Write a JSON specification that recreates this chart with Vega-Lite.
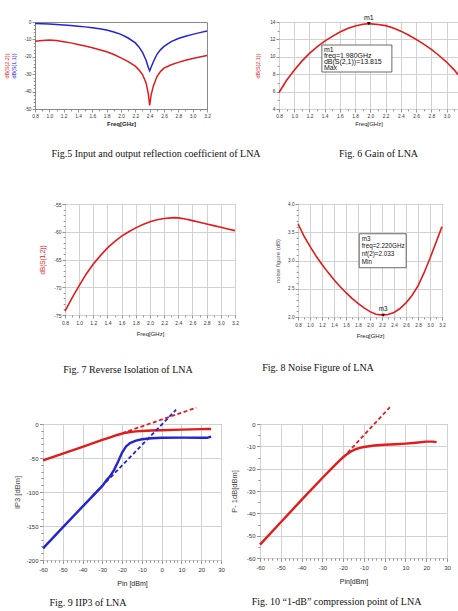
{
  "$schema": "https://vega.github.io/schema/vega-lite/v6.json",
  "padding": 0,
  "background": "white",
  "spacing": 0,
  "config": {
    "view": {"stroke": null},
    "font": "Liberation Sans",
    "axis": {
      "domain": false,
      "tickColor": "#7a7a7a",
      "tickWidth": 0.8,
      "labelFont": "Liberation Sans",
      "titleFont": "Liberation Sans",
      "labelColor": "#333333",
      "titleColor": "#222222",
      "titleFontWeight": "normal",
      "gridColor": "#d2d2d2",
      "gridWidth": 1,
      "labelFlush": false,
      "labelBound": false
    },
    "title": {"font": "Liberation Serif", "fontWeight": "normal", "color": "#111111", "orient": "bottom", "anchor": "middle", "frame": "group", "baseline": "top"}
  },
  "vconcat": [
    {"width": 1, "height": 13, "data": {"values": []}, "mark": "point"},
    {
      "spacing": 0,
      "bounds": "flush",
      "hconcat": [
        {"width": 35, "height": 87, "data": {"values": []}, "mark": "point"},
        {
          "width": 172,
          "height": 87,
          "view": {"stroke": "#8a8a8a", "strokeWidth": 1},
          "title": {"text": "Fig.5 Input and output reflection coefficient of LNA", "fontSize": 10, "frame": "group", "dx": 35, "offset": 22.5},
          "data": {"values": [
            {"freq": 0.8, "s11": -0.8, "s22": -11.0},
            {"freq": 0.9, "s11": -1.0, "s22": -10.6},
            {"freq": 1.0, "s11": -1.2, "s22": -10.4},
            {"freq": 1.1, "s11": -1.4, "s22": -10.7},
            {"freq": 1.2, "s11": -1.7, "s22": -11.3},
            {"freq": 1.3, "s11": -2.0, "s22": -12.0},
            {"freq": 1.4, "s11": -2.4, "s22": -12.9},
            {"freq": 1.5, "s11": -2.8, "s22": -13.8},
            {"freq": 1.6, "s11": -3.3, "s22": -14.8},
            {"freq": 1.7, "s11": -3.9, "s22": -15.9},
            {"freq": 1.8, "s11": -4.6, "s22": -17.1},
            {"freq": 1.9, "s11": -5.7, "s22": -18.7},
            {"freq": 2.0, "s11": -7.1, "s22": -20.6},
            {"freq": 2.1, "s11": -9.2, "s22": -22.8},
            {"freq": 2.2, "s11": -12.0, "s22": -25.4},
            {"freq": 2.25, "s11": -14.3, "s22": -27.5},
            {"freq": 2.3, "s11": -17.5, "s22": -30.2},
            {"freq": 2.35, "s11": -22.0, "s22": -35.0},
            {"freq": 2.38, "s11": -26.0, "s22": -41.0},
            {"freq": 2.4, "s11": -28.0, "s22": -48.0},
            {"freq": 2.42, "s11": -26.0, "s22": -42.0},
            {"freq": 2.45, "s11": -23.0, "s22": -37.0},
            {"freq": 2.5, "s11": -18.7, "s22": -31.5},
            {"freq": 2.55, "s11": -16.0, "s22": -28.5},
            {"freq": 2.6, "s11": -14.0, "s22": -26.5},
            {"freq": 2.7, "s11": -11.3, "s22": -24.6},
            {"freq": 2.8, "s11": -9.5, "s22": -23.2},
            {"freq": 2.9, "s11": -8.2, "s22": -22.0},
            {"freq": 3.0, "s11": -7.1, "s22": -21.0},
            {"freq": 3.1, "s11": -6.1, "s22": -20.1},
            {"freq": 3.2, "s11": -5.2, "s22": -19.2}
          ]},
          "encoding": {
            "x": {
              "field": "freq", "type": "quantitative",
              "scale": {"domain": [0.8, 3.2], "nice": false, "zero": false},
              "axis": {
                "values": [0.8, 0.9, 1.0, 1.1, 1.2, 1.3, 1.4, 1.5, 1.6, 1.7, 1.8, 1.9, 2.0, 2.1, 2.2, 2.3, 2.4, 2.5, 2.6, 2.7, 2.8, 2.9, 3.0, 3.1, 3.2],
                "labelExpr": "abs(datum.value*5 - round(datum.value*5)) < 0.01 ? format(datum.value, '.1f') : ''",
                "tickSize": {"condition": {"test": "abs(datum.value*5 - round(datum.value*5)) < 0.01", "value": 3}, "value": 1.8},
                "grid": false, "labelOverlap": false,
                "labelFontSize": 4.8, "labelPadding": 1,
                "title": "Freq[GHz]", "titleFontSize": 6, "titleFontWeight": "bold", "titlePadding": 3
              }
            }
          },
          "layer": [
            {
              "mark": {"type": "line", "color": "#2424d4", "strokeWidth": 1.5},
              "encoding": {
                "y": {
                  "field": "s11", "type": "quantitative",
                  "scale": {"domain": [-50, 0], "nice": false},
                  "axis": {
                    "orient": "left",
                    "values": [-50, -48, -46, -44, -42, -40, -38, -36, -34, -32, -30, -28, -26, -24, -22, -20, -18, -16, -14, -12, -10, -8, -6, -4, -2, 0],
                    "labelExpr": "datum.value % 10 === 0 ? '' + datum.value : ''",
                    "tickSize": {"condition": {"test": "datum.value % 10 === 0", "value": 3}, "value": 1.8},
                    "grid": false, "labelOverlap": false,
                    "labelFontSize": 4.8, "labelPadding": 1,
                    "title": "dB(S(1,1))", "titleColor": "#2424d4", "titleFontSize": 5.4, "titlePadding": 8
                  }
                }
              }
            },
            {
              "mark": {"type": "line", "color": "#e21b1b", "strokeWidth": 1.5},
              "encoding": {
                "y": {
                  "field": "s22", "type": "quantitative",
                  "axis": {
                    "orient": "left",
                    "labels": false, "ticks": false, "grid": false,
                    "title": "dB(S(2,2))", "titleColor": "#e21b1b", "titleFontSize": 5.4, "titlePadding": 26
                  }
                }
              }
            }
          ],
          "resolve": {"axis": {"y": "independent"}}
        },
        {"width": 72, "height": 87, "data": {"values": []}, "mark": "point"},
        {
          "width": 179,
          "height": 87,
          "view": {"stroke": "#8a8a8a", "strokeWidth": 1},
          "title": {"text": "Fig. 6 Gain of LNA", "fontSize": 10, "frame": "group", "dx": 10, "offset": 22.5},
          "encoding": {
            "x": {
              "field": "freq", "type": "quantitative",
              "scale": {"domain": [0.8, 3.15], "nice": false, "zero": false},
              "axis": {
                "values": [0.8, 0.9, 1.0, 1.1, 1.2, 1.3, 1.4, 1.5, 1.6, 1.7, 1.8, 1.9, 2.0, 2.1, 2.2, 2.3, 2.4, 2.5, 2.6, 2.7, 2.8, 2.9, 3.0, 3.1],
                "labelExpr": "abs(datum.value*5 - round(datum.value*5)) < 0.01 ? format(datum.value, '.1f') : ''",
                "tickSize": {"condition": {"test": "abs(datum.value*5 - round(datum.value*5)) < 0.01", "value": 3}, "value": 1.8},
                "gridOpacity": {"condition": {"test": "abs(datum.value*5 - round(datum.value*5)) < 0.01", "value": 1}, "value": 0},
                "labelOverlap": false,
                "labelFontSize": 4.8, "labelPadding": 1,
                "title": "Freq[GHz]", "titleFontSize": 6, "titlePadding": 3
              }
            },
            "y": {
              "field": "gain", "type": "quantitative",
              "scale": {"domain": [4, 14], "nice": false, "zero": false},
              "axis": {
                "values": [4, 5, 6, 7, 8, 9, 10, 11, 12, 13, 14],
                "labelExpr": "datum.value % 2 === 0 ? '' + datum.value : ''",
                "tickSize": {"condition": {"test": "datum.value % 2 === 0", "value": 3}, "value": 1.8},
                "gridOpacity": {"condition": {"test": "datum.value % 2 === 0", "value": 1}, "value": 0},
                "labelOverlap": false,
                "labelFontSize": 4.8, "labelPadding": 1,
                "title": "dB(S(2,1))", "titleColor": "#e21b1b", "titleFontSize": 5.4, "titlePadding": 9
              }
            }
          },
          "layer": [
            {
              "data": {"values": [
                {"freq": 0.8, "gain": 5.9},
                {"freq": 0.9, "gain": 7.3},
                {"freq": 1.0, "gain": 8.45},
                {"freq": 1.1, "gain": 9.5},
                {"freq": 1.2, "gain": 10.4},
                {"freq": 1.3, "gain": 11.15},
                {"freq": 1.4, "gain": 11.8},
                {"freq": 1.5, "gain": 12.35},
                {"freq": 1.6, "gain": 12.85},
                {"freq": 1.7, "gain": 13.25},
                {"freq": 1.8, "gain": 13.55},
                {"freq": 1.9, "gain": 13.75},
                {"freq": 1.98, "gain": 13.815},
                {"freq": 2.1, "gain": 13.72},
                {"freq": 2.2, "gain": 13.58},
                {"freq": 2.3, "gain": 13.3},
                {"freq": 2.4, "gain": 12.95},
                {"freq": 2.5, "gain": 12.5},
                {"freq": 2.6, "gain": 12.0},
                {"freq": 2.7, "gain": 11.45},
                {"freq": 2.8, "gain": 10.85},
                {"freq": 2.9, "gain": 10.15},
                {"freq": 3.0, "gain": 9.4},
                {"freq": 3.1, "gain": 8.5},
                {"freq": 3.15, "gain": 7.95}
              ]},
              "mark": {"type": "line", "color": "#e21b1b", "strokeWidth": 1.6}
            },
            {
              "data": {"values": [{"freq": 1.98, "gain": 13.815}]},
              "mark": {"type": "rect", "fill": "white", "stroke": "#444444", "strokeWidth": 0.8, "xOffset": -47, "x2Offset": 23, "yOffset": 21.4, "y2Offset": 48.4},
              "encoding": {"x2": {"field": "freq"}, "y2": {"field": "gain"}}
            },
            {
              "data": {"values": [{"freq": 1.98, "gain": 13.815}]},
              "mark": {"type": "text", "text": ["m1", "freq=1.980GHz", "dB(S(2,1))=13.815", "Max"], "align": "left", "baseline": "top", "dx": -45, "dy": 22, "fontSize": 7, "lineHeight": 6.1, "color": "#111111"}
            },
            {
              "data": {"values": [{"freq": 1.98, "gain": 13.815}]},
              "mark": {"type": "point", "shape": "triangle-down", "filled": true, "color": "#111111", "size": 14, "opacity": 1}
            },
            {
              "data": {"values": [{"freq": 1.98, "gain": 13.815}]},
              "mark": {"type": "text", "text": "m1", "baseline": "bottom", "dy": -2.5, "fontSize": 7, "color": "#111111"}
            }
          ]
        }
      ]
    },
    {"width": 1, "height": 40, "data": {"values": []}, "mark": "point"},
    {
      "spacing": 0,
      "bounds": "flush",
      "hconcat": [
        {"width": 65, "height": 111, "data": {"values": []}, "mark": "point"},
        {
          "width": 170,
          "height": 111,
          "view": {"stroke": "#8a8a8a", "strokeWidth": 1},
          "title": {"text": "Fig. 7 Reverse Isolation of LNA", "fontSize": 10, "frame": "group", "dx": -22, "offset": 28.5},
          "data": {"values": [
            {"freq": 0.8, "s12": -74.3},
            {"freq": 0.9, "s12": -71.9},
            {"freq": 1.0, "s12": -69.7},
            {"freq": 1.1, "s12": -67.6},
            {"freq": 1.2, "s12": -65.8},
            {"freq": 1.3, "s12": -64.3},
            {"freq": 1.4, "s12": -62.9},
            {"freq": 1.5, "s12": -61.8},
            {"freq": 1.6, "s12": -60.8},
            {"freq": 1.7, "s12": -60.0},
            {"freq": 1.8, "s12": -59.3},
            {"freq": 1.9, "s12": -58.7},
            {"freq": 2.0, "s12": -58.2},
            {"freq": 2.1, "s12": -57.85},
            {"freq": 2.2, "s12": -57.6},
            {"freq": 2.3, "s12": -57.5},
            {"freq": 2.35, "s12": -57.45},
            {"freq": 2.4, "s12": -57.5},
            {"freq": 2.5, "s12": -57.7},
            {"freq": 2.6, "s12": -58.0},
            {"freq": 2.7, "s12": -58.3},
            {"freq": 2.8, "s12": -58.6},
            {"freq": 2.9, "s12": -58.9},
            {"freq": 3.0, "s12": -59.2},
            {"freq": 3.1, "s12": -59.5},
            {"freq": 3.2, "s12": -59.8}
          ]},
          "mark": {"type": "line", "color": "#e21b1b", "strokeWidth": 1.6},
          "encoding": {
            "x": {
              "field": "freq", "type": "quantitative",
              "scale": {"domain": [0.8, 3.2], "nice": false, "zero": false},
              "axis": {
                "values": [0.8, 0.9, 1.0, 1.1, 1.2, 1.3, 1.4, 1.5, 1.6, 1.7, 1.8, 1.9, 2.0, 2.1, 2.2, 2.3, 2.4, 2.5, 2.6, 2.7, 2.8, 2.9, 3.0, 3.1, 3.2],
                "labelExpr": "abs(datum.value*5 - round(datum.value*5)) < 0.01 ? format(datum.value, '.1f') : ''",
                "tickSize": {"condition": {"test": "abs(datum.value*5 - round(datum.value*5)) < 0.01", "value": 3}, "value": 1.8},
                "gridOpacity": {"condition": {"test": "abs(datum.value*5 - round(datum.value*5)) < 0.01", "value": 1}, "value": 0},
                "labelOverlap": false,
                "labelFontSize": 5, "labelPadding": 2,
                "title": "Freq[GHz]", "titleFontSize": 6, "titlePadding": 5
              }
            },
            "y": {
              "field": "s12", "type": "quantitative",
              "scale": {"domain": [-75, -55], "nice": false, "zero": false},
              "axis": {
                "values": [-75, -74, -73, -72, -71, -70, -69, -68, -67, -66, -65, -64, -63, -62, -61, -60, -59, -58, -57, -56, -55],
                "labelExpr": "datum.value % 5 === 0 ? '' + datum.value : ''",
                "tickSize": {"condition": {"test": "datum.value % 5 === 0", "value": 3}, "value": 1.8},
                "gridOpacity": {"condition": {"test": "datum.value % 5 === 0", "value": 1}, "value": 0},
                "labelOverlap": false,
                "labelFontSize": 5, "labelPadding": 1,
                "title": "dB(S(1,2))", "titleColor": "#e21b1b", "titleFontSize": 6.3, "titlePadding": 8
              }
            }
          }
        },
        {"width": 63, "height": 111, "data": {"values": []}, "mark": "point"},
        {
          "width": 144,
          "height": 113,
          "view": {"stroke": "#8a8a8a", "strokeWidth": 1},
          "title": {"text": "Fig. 8 Noise Figure of LNA", "fontSize": 10, "frame": "group", "dx": -52, "offset": 24.5},
          "encoding": {
            "x": {
              "field": "freq", "type": "quantitative",
              "scale": {"domain": [0.8, 3.2], "nice": false, "zero": false},
              "axis": {
                "values": [0.8, 0.9, 1.0, 1.1, 1.2, 1.3, 1.4, 1.5, 1.6, 1.7, 1.8, 1.9, 2.0, 2.1, 2.2, 2.3, 2.4, 2.5, 2.6, 2.7, 2.8, 2.9, 3.0, 3.1, 3.2],
                "labelExpr": "abs(datum.value*5 - round(datum.value*5)) < 0.01 ? format(datum.value, '.1f') : ''",
                "tickSize": {"condition": {"test": "abs(datum.value*5 - round(datum.value*5)) < 0.01", "value": 3}, "value": 1.8},
                "gridOpacity": {"condition": {"test": "abs(datum.value*5 - round(datum.value*5)) < 0.01", "value": 1}, "value": 0},
                "labelOverlap": false,
                "labelFontSize": 4.6, "labelPadding": 2,
                "title": "Freq[GHz]", "titleFontSize": 6, "titlePadding": 6
              }
            },
            "y": {
              "field": "nf", "type": "quantitative",
              "scale": {"domain": [2, 4], "nice": false, "zero": false},
              "axis": {
                "values": [2.0, 2.1, 2.2, 2.3, 2.4, 2.5, 2.6, 2.7, 2.8, 2.9, 3.0, 3.1, 3.2, 3.3, 3.4, 3.5, 3.6, 3.7, 3.8, 3.9, 4.0],
                "labelExpr": "abs(datum.value*2 - round(datum.value*2)) < 0.01 ? format(datum.value, '.1f') : ''",
                "tickSize": {"condition": {"test": "abs(datum.value*2 - round(datum.value*2)) < 0.01", "value": 3}, "value": 1.8},
                "gridOpacity": {"condition": {"test": "abs(datum.value*2 - round(datum.value*2)) < 0.01", "value": 1}, "value": 0},
                "labelOverlap": false,
                "labelFontSize": 4.6, "labelPadding": 1,
                "title": "noise figure (dB)", "titleColor": "#555555", "titleFontSize": 6, "titlePadding": 7
              }
            }
          },
          "layer": [
            {
              "data": {"values": [
                {"freq": 0.8, "nf": 3.65},
                {"freq": 0.9, "nf": 3.43},
                {"freq": 1.0, "nf": 3.25},
                {"freq": 1.1, "nf": 3.08},
                {"freq": 1.2, "nf": 2.93},
                {"freq": 1.3, "nf": 2.79},
                {"freq": 1.4, "nf": 2.66},
                {"freq": 1.5, "nf": 2.54},
                {"freq": 1.6, "nf": 2.43},
                {"freq": 1.7, "nf": 2.33},
                {"freq": 1.8, "nf": 2.24},
                {"freq": 1.9, "nf": 2.16},
                {"freq": 2.0, "nf": 2.095},
                {"freq": 2.1, "nf": 2.05},
                {"freq": 2.22, "nf": 2.033},
                {"freq": 2.3, "nf": 2.045},
                {"freq": 2.4, "nf": 2.08},
                {"freq": 2.5, "nf": 2.15},
                {"freq": 2.6, "nf": 2.25},
                {"freq": 2.7, "nf": 2.38},
                {"freq": 2.8, "nf": 2.55},
                {"freq": 2.9, "nf": 2.78},
                {"freq": 3.0, "nf": 3.04},
                {"freq": 3.1, "nf": 3.32},
                {"freq": 3.2, "nf": 3.6}
              ]},
              "mark": {"type": "line", "color": "#e21b1b", "strokeWidth": 1.6}
            },
            {
              "data": {"values": [{"freq": 2.22, "nf": 2.033}]},
              "mark": {"type": "rect", "fill": "white", "stroke": "#444444", "strokeWidth": 0.8, "xOffset": -24, "x2Offset": 23, "yOffset": -81.4, "y2Offset": -47.4},
              "encoding": {"x2": {"field": "freq"}, "y2": {"field": "nf"}}
            },
            {
              "data": {"values": [{"freq": 2.22, "nf": 2.033}]},
              "mark": {"type": "text", "text": ["m3", "freq=2.220GHz", "nf(2)=2.033", "Min"], "align": "left", "baseline": "top", "dx": -21.4, "dy": -79.5, "fontSize": 6.3, "lineHeight": 7.8, "color": "#111111"}
            },
            {
              "data": {"values": [{"freq": 2.22, "nf": 2.033}]},
              "mark": {"type": "point", "shape": "triangle-down", "filled": true, "color": "#111111", "size": 12, "opacity": 1}
            },
            {
              "data": {"values": [{"freq": 2.22, "nf": 2.033}]},
              "mark": {"type": "text", "text": "m3", "baseline": "bottom", "dy": -3, "fontSize": 6.3, "color": "#111111"}
            }
          ]
        }
      ]
    },
    {"width": 1, "height": 27.5, "data": {"values": []}, "mark": "point"},
    {
      "spacing": 0,
      "bounds": "flush",
      "hconcat": [
        {"width": 43, "height": 136, "data": {"values": []}, "mark": "point"},
        {
          "width": 178,
          "height": 136,
          "view": {"stroke": "#8a8a8a", "strokeWidth": 1},
          "title": {"text": "Fig. 9 IIP3 of LNA", "fontSize": 10, "frame": "group", "dx": -44, "offset": 11},
          "encoding": {
            "x": {
              "field": "pin", "type": "quantitative",
              "scale": {"domain": [-60, 30], "nice": false, "zero": false},
              "axis": {
                "values": [-60, -58, -56, -54, -52, -50, -48, -46, -44, -42, -40, -38, -36, -34, -32, -30, -28, -26, -24, -22, -20, -18, -16, -14, -12, -10, -8, -6, -4, -2, 0, 2, 4, 6, 8, 10, 12, 14, 16, 18, 20, 22, 24, 26, 28, 30],
                "labelExpr": "datum.value % 10 === 0 ? '' + datum.value : ''",
                "tickSize": {"condition": {"test": "datum.value % 10 === 0", "value": 3.5}, "value": 2.2},
                "gridOpacity": {"condition": {"test": "datum.value % 10 === 0", "value": 1}, "value": 0},
                "labelOverlap": false,
                "labelFontSize": 6, "labelPadding": 3,
                "title": "Pin [dBm]", "titleFontSize": 7, "titlePadding": 7
              }
            },
            "y": {
              "type": "quantitative",
              "scale": {"domain": [-200, 0], "nice": false, "zero": false},
              "axis": {
                "values": [-200, -190, -180, -170, -160, -150, -140, -130, -120, -110, -100, -90, -80, -70, -60, -50, -40, -30, -20, -10, 0],
                "labelExpr": "datum.value % 50 === 0 ? '' + datum.value : ''",
                "tickSize": {"condition": {"test": "datum.value % 50 === 0", "value": 3.5}, "value": 2.2},
                "gridOpacity": {"condition": {"test": "datum.value % 50 === 0", "value": 1}, "value": 0},
                "labelOverlap": false,
                "labelFontSize": 6, "labelPadding": 1.5,
                "title": "IP3 [dBm]", "titleColor": "#444444", "titleFontSize": 7.5, "titlePadding": 4
              }
            }
          },
          "layer": [
            {
              "data": {"values": [
                {"pin": -60, "fund": -53.5, "im3": -183},
                {"pin": -50, "fund": -43.5, "im3": -152},
                {"pin": -40, "fund": -33.5, "im3": -121.5},
                {"pin": -30, "fund": -23.5, "im3": -91},
                {"pin": -28, "fund": -21.5, "im3": -83},
                {"pin": -26, "fund": -19.5, "im3": -76.5},
                {"pin": -24, "fund": -17.6, "im3": -67},
                {"pin": -22, "fund": -15.8, "im3": -55},
                {"pin": -20, "fund": -14.2, "im3": -42},
                {"pin": -18, "fund": -12.8, "im3": -33},
                {"pin": -16, "fund": -11.8, "im3": -28},
                {"pin": -13, "fund": -10.8, "im3": -24.5},
                {"pin": -10, "fund": -10.2, "im3": -22.5},
                {"pin": -5, "fund": -9.6, "im3": -21},
                {"pin": 0, "fund": -9.1, "im3": -20.2},
                {"pin": 10, "fund": -8.3, "im3": -20},
                {"pin": 20, "fund": -7.6, "im3": -20.3},
                {"pin": 23, "fund": -7.4, "im3": -20.3},
                {"pin": 25, "fund": -7.3, "im3": -18.5}
              ]},
              "layer": [
                {"mark": {"type": "line", "color": "#e21b1b", "strokeWidth": 2.4}, "encoding": {"y": {"field": "fund"}}},
                {"mark": {"type": "line", "color": "#2424d4", "strokeWidth": 2.4}, "encoding": {"y": {"field": "im3"}}}
              ]
            },
            {
              "data": {"values": [
                {"pin": -20, "fund_ext": -13.5},
                {"pin": 17.5, "fund_ext": 24}
              ]},
              "mark": {"type": "line", "color": "#e21b1b", "strokeWidth": 1.8, "strokeDash": [4, 2.5]},
              "encoding": {"y": {"field": "fund_ext"}}
            },
            {
              "data": {"values": [
                {"pin": -35, "im3_ext": -106},
                {"pin": 7.3, "im3_ext": 21}
              ]},
              "mark": {"type": "line", "color": "#2424d4", "strokeWidth": 1.8, "strokeDash": [4, 2.5]},
              "encoding": {"y": {"field": "im3_ext"}}
            }
          ]
        },
        {"width": 39, "height": 136, "data": {"values": []}, "mark": "point"},
        {
          "width": 187,
          "height": 134,
          "view": {"stroke": "#8a8a8a", "strokeWidth": 1},
          "title": {"text": "Fig. 10 “1-dB” compression point of LNA", "fontSize": 10, "frame": "group", "dx": -17, "offset": 12},
          "encoding": {
            "x": {
              "field": "pin", "type": "quantitative",
              "scale": {"domain": [-60, 30], "nice": false, "zero": false},
              "axis": {
                "values": [-60, -58, -56, -54, -52, -50, -48, -46, -44, -42, -40, -38, -36, -34, -32, -30, -28, -26, -24, -22, -20, -18, -16, -14, -12, -10, -8, -6, -4, -2, 0, 2, 4, 6, 8, 10, 12, 14, 16, 18, 20, 22, 24, 26, 28, 30],
                "labelExpr": "datum.value % 10 === 0 ? '' + datum.value : ''",
                "tickSize": {"condition": {"test": "datum.value % 10 === 0", "value": 3.5}, "value": 2.2},
                "gridOpacity": {"condition": {"test": "datum.value % 10 === 0", "value": 1}, "value": 0},
                "labelOverlap": false,
                "labelFontSize": 6, "labelPadding": 3,
                "title": "Pin[dBm]", "titleFontSize": 7, "titlePadding": 7
              }
            },
            "y": {
              "type": "quantitative",
              "scale": {"domain": [-60, 0], "nice": false, "zero": false},
              "axis": {
                "values": [-60, -55, -50, -45, -40, -35, -30, -25, -20, -15, -10, -5, 0],
                "labelExpr": "datum.value % 10 === 0 ? '' + datum.value : ''",
                "tickSize": {"condition": {"test": "datum.value % 10 === 0", "value": 3.5}, "value": 2.2},
                "gridOpacity": {"condition": {"test": "datum.value % 10 === 0", "value": 1}, "value": 0},
                "labelOverlap": false,
                "labelFontSize": 6, "labelPadding": 1.5,
                "title": "P- 1dB[dBm]", "titleColor": "#444444", "titleFontSize": 7.5, "titlePadding": 8
              }
            }
          },
          "layer": [
            {
              "data": {"values": [
                {"pin": -60, "pout": -54},
                {"pin": -50, "pout": -44},
                {"pin": -40, "pout": -34},
                {"pin": -30, "pout": -24.2},
                {"pin": -25, "pout": -19.4},
                {"pin": -22, "pout": -16.6},
                {"pin": -20, "pout": -14.9},
                {"pin": -18, "pout": -13.4},
                {"pin": -16, "pout": -12.2},
                {"pin": -14, "pout": -11.3},
                {"pin": -12, "pout": -10.7},
                {"pin": -10, "pout": -10.3},
                {"pin": -5, "pout": -9.6},
                {"pin": 0, "pout": -9.3},
                {"pin": 5, "pout": -9.1},
                {"pin": 10, "pout": -8.8},
                {"pin": 15, "pout": -8.4},
                {"pin": 20, "pout": -7.9},
                {"pin": 23, "pout": -7.9},
                {"pin": 25, "pout": -8.1}
              ]},
              "mark": {"type": "line", "color": "#e21b1b", "strokeWidth": 2.4},
              "encoding": {"y": {"field": "pout"}}
            },
            {
              "data": {"values": [
                {"pin": -20, "pout_ext": -15},
                {"pin": 2.5, "pout_ext": 7.5}
              ]},
              "mark": {"type": "line", "color": "#e21b1b", "strokeWidth": 1.8, "strokeDash": [4, 2.5]},
              "encoding": {"y": {"field": "pout_ext"}}
            }
          ]
        }
      ]
    }
  ]
}
